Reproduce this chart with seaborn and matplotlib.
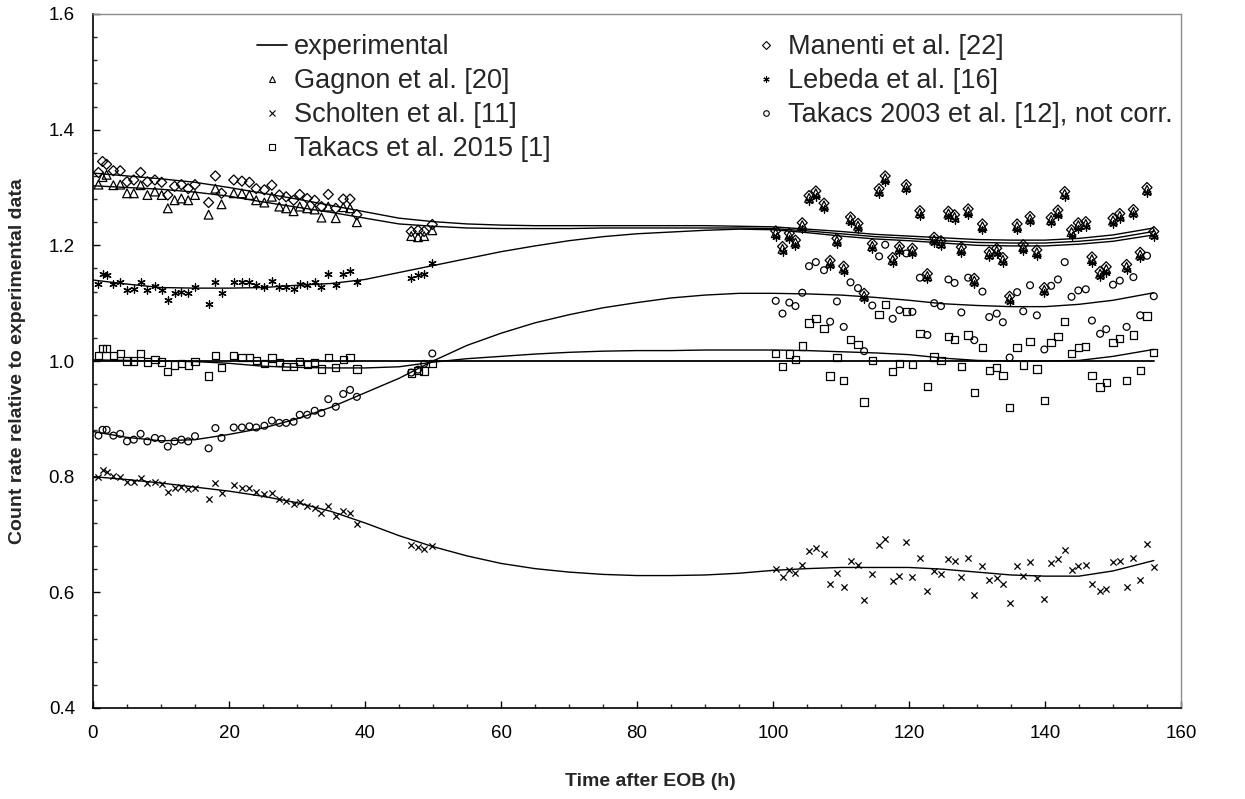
import matplotlib
matplotlib.use("Agg")
import matplotlib.pyplot as plt
from matplotlib.lines import Line2D
from matplotlib.ticker import MultipleLocator, FormatStrFormatter
import seaborn as sns

# ------------------------------------------------------------------
# Data
# ------------------------------------------------------------------

# measurement times (h after EOB): early block and late block
time_early = [0.8, 1.4, 2.0, 3.0, 4.0, 5.0, 6.0, 7.0, 8.0, 9.1, 10.1, 11.0, 12.0,
              13.0, 14.0, 15.0, 17.0, 18.0, 18.9, 20.7, 21.9, 23.0, 24.0, 25.2,
              26.3, 27.4, 28.4, 29.5, 30.4, 31.5, 32.6, 33.6, 34.6, 35.7, 36.8,
              37.8, 38.8, 46.8, 47.8, 48.7, 49.9]
time_late = [100.4, 101.4, 102.4, 103.3, 104.3, 105.3, 106.3, 107.5, 108.4, 109.4,
             110.4, 111.4, 112.5, 113.4, 114.6, 115.6, 116.5, 117.6, 118.6, 119.6,
             120.5, 121.6, 122.7, 123.7, 124.7, 125.8, 126.7, 127.7, 128.7, 129.6,
             130.8, 131.8, 132.9, 133.8, 134.8, 135.9, 136.8, 137.8, 138.8, 139.9,
             140.9, 141.9, 142.9, 143.9, 144.9, 146.0, 146.9, 148.1, 149.0, 150.0,
             151.0, 152.0, 153.0, 154.0, 155.0, 156.0]

gagnon_early = [1.305, 1.318, 1.322, 1.304, 1.305, 1.290, 1.290, 1.304, 1.287, 1.293,
                1.287, 1.264, 1.278, 1.281, 1.278, 1.287, 1.253, 1.298, 1.271, 1.290,
                1.290, 1.287, 1.278, 1.274, 1.284, 1.267, 1.264, 1.259, 1.267, 1.264,
                1.262, 1.248, 1.267, 1.247, 1.266, 1.264, 1.240, 1.216, 1.214, 1.216,
                1.226]
gagnon_late = [1.221, 1.194, 1.217, 1.205, 1.235, 1.282, 1.290, 1.269, 1.170, 1.208,
               1.160, 1.245, 1.234, 1.113, 1.199, 1.294, 1.316, 1.175, 1.194, 1.301,
               1.191, 1.256, 1.147, 1.210, 1.204, 1.255, 1.249, 1.193, 1.259, 1.139,
               1.233, 1.185, 1.191, 1.175, 1.108, 1.233, 1.197, 1.246, 1.188, 1.123,
               1.244, 1.257, 1.289, 1.223, 1.235, 1.237, 1.176, 1.151, 1.159, 1.243,
               1.251, 1.163, 1.258, 1.184, 1.296, 1.220]

scholten_early = [0.800, 0.811, 0.808, 0.801, 0.800, 0.790, 0.791, 0.798, 0.789, 0.790,
                  0.787, 0.773, 0.781, 0.782, 0.778, 0.781, 0.762, 0.789, 0.772, 0.785,
                  0.781, 0.780, 0.774, 0.770, 0.772, 0.762, 0.758, 0.752, 0.756, 0.749,
                  0.745, 0.737, 0.749, 0.732, 0.740, 0.738, 0.718, 0.681, 0.678, 0.675,
                  0.680]
scholten_late = [0.641, 0.626, 0.638, 0.634, 0.648, 0.671, 0.676, 0.667, 0.614, 0.634,
                 0.609, 0.655, 0.648, 0.586, 0.631, 0.682, 0.693, 0.619, 0.628, 0.687,
                 0.626, 0.660, 0.603, 0.637, 0.631, 0.657, 0.655, 0.626, 0.660, 0.595,
                 0.645, 0.622, 0.624, 0.614, 0.581, 0.645, 0.628, 0.653, 0.624, 0.588,
                 0.650, 0.657, 0.674, 0.638, 0.645, 0.648, 0.614, 0.602, 0.606, 0.653,
                 0.655, 0.609, 0.660, 0.621, 0.683, 0.643]

takacs15_early = [1.010, 1.022, 1.022, 1.010, 1.013, 1.000, 1.000, 1.013, 0.998, 1.003,
                  0.998, 0.982, 0.993, 0.996, 0.993, 0.999, 0.974, 1.010, 0.989, 1.009,
                  1.006, 1.006, 1.001, 0.996, 1.005, 0.997, 0.991, 0.991, 0.999, 0.994,
                  0.997, 0.986, 1.006, 0.989, 1.003, 1.006, 0.986, 0.979, 0.984, 0.983,
                  0.996]
takacs15_late = [1.013, 0.991, 1.012, 1.003, 1.026, 1.066, 1.074, 1.056, 0.974, 1.006,
                 0.966, 1.037, 1.028, 0.929, 1.001, 1.080, 1.098, 0.982, 0.996, 1.086,
                 0.994, 1.047, 0.956, 1.007, 1.001, 1.042, 1.037, 0.991, 1.045, 0.946,
                 1.023, 0.984, 0.989, 0.975, 0.920, 1.023, 0.993, 1.034, 0.986, 0.932,
                 1.032, 1.042, 1.068, 1.013, 1.023, 1.025, 0.975, 0.955, 0.963, 1.032,
                 1.039, 0.966, 1.045, 0.984, 1.078, 1.015]

manenti_early = [1.326, 1.345, 1.340, 1.329, 1.329, 1.310, 1.313, 1.326, 1.310, 1.313,
                 1.309, 1.287, 1.302, 1.305, 1.298, 1.305, 1.274, 1.320, 1.290, 1.313,
                 1.311, 1.309, 1.298, 1.296, 1.304, 1.287, 1.284, 1.278, 1.288, 1.281,
                 1.278, 1.267, 1.288, 1.264, 1.280, 1.280, 1.253, 1.224, 1.226, 1.224,
                 1.236]
manenti_late = [1.225, 1.198, 1.221, 1.209, 1.239, 1.286, 1.294, 1.273, 1.174, 1.212,
                1.164, 1.249, 1.238, 1.117, 1.203, 1.298, 1.320, 1.179, 1.198, 1.305,
                1.195, 1.260, 1.151, 1.214, 1.208, 1.259, 1.253, 1.197, 1.263, 1.143,
                1.237, 1.189, 1.195, 1.179, 1.112, 1.237, 1.201, 1.250, 1.192, 1.127,
                1.248, 1.261, 1.293, 1.227, 1.239, 1.241, 1.180, 1.155, 1.163, 1.247,
                1.255, 1.167, 1.262, 1.188, 1.300, 1.224]

lebeda_early = [1.133, 1.151, 1.148, 1.133, 1.136, 1.122, 1.125, 1.136, 1.122, 1.129,
                1.122, 1.106, 1.118, 1.119, 1.118, 1.128, 1.099, 1.136, 1.117, 1.136,
                1.136, 1.136, 1.131, 1.128, 1.139, 1.128, 1.128, 1.125, 1.133, 1.132,
                1.136, 1.128, 1.150, 1.132, 1.150, 1.156, 1.136, 1.143, 1.148, 1.151,
                1.170]
lebeda_late = [1.215, 1.188, 1.211, 1.199, 1.229, 1.276, 1.284, 1.263, 1.164, 1.202,
               1.154, 1.239, 1.228, 1.107, 1.193, 1.288, 1.310, 1.169, 1.188, 1.295,
               1.185, 1.250, 1.141, 1.204, 1.198, 1.249, 1.243, 1.187, 1.253, 1.133,
               1.227, 1.179, 1.185, 1.169, 1.102, 1.227, 1.191, 1.240, 1.182, 1.117,
               1.238, 1.251, 1.283, 1.217, 1.229, 1.231, 1.170, 1.145, 1.153, 1.237,
               1.245, 1.157, 1.252, 1.178, 1.290, 1.214]

takacs03_early = [0.871, 0.881, 0.881, 0.871, 0.874, 0.861, 0.864, 0.874, 0.861, 0.867,
                  0.865, 0.852, 0.861, 0.864, 0.861, 0.870, 0.849, 0.884, 0.867, 0.885,
                  0.885, 0.887, 0.885, 0.888, 0.897, 0.893, 0.893, 0.895, 0.907, 0.907,
                  0.914, 0.910, 0.934, 0.921, 0.943, 0.950, 0.938, 0.980, 0.985, 0.995,
                  1.013]
takacs03_late = [1.104, 1.082, 1.101, 1.095, 1.118, 1.164, 1.171, 1.157, 1.068, 1.103,
                 1.059, 1.136, 1.126, 1.017, 1.096, 1.181, 1.201, 1.073, 1.088, 1.186,
                 1.085, 1.144, 1.045, 1.100, 1.095, 1.141, 1.135, 1.084, 1.144, 1.036,
                 1.120, 1.076, 1.082, 1.067, 1.006, 1.119, 1.086, 1.131, 1.079, 1.020,
                 1.130, 1.141, 1.171, 1.111, 1.122, 1.124, 1.070, 1.047, 1.055, 1.132,
                 1.139, 1.059, 1.145, 1.079, 1.182, 1.112]

# smoothed ratio curves
curve_t = [0, 5, 10, 15, 20, 25, 30, 35, 40, 45, 50, 55, 60, 65, 70, 75, 80, 85,
           90, 95, 100, 105, 110, 115, 120, 125, 130, 135, 140, 145, 150, 156]
exp_t = [0, 156]
exp_curve = [1.0, 1.0]
manenti_curve = [1.325, 1.320, 1.315, 1.309, 1.300, 1.290, 1.280, 1.269, 1.258, 1.247,
                 1.241, 1.237, 1.235, 1.234, 1.234, 1.234, 1.234, 1.234, 1.234, 1.233,
                 1.232, 1.228, 1.224, 1.219, 1.216, 1.213, 1.210, 1.209, 1.209, 1.212,
                 1.218, 1.230]
gagnon_curve = [1.303, 1.300, 1.297, 1.292, 1.285, 1.275, 1.266, 1.257, 1.247, 1.237,
                1.233, 1.230, 1.229, 1.229, 1.229, 1.230, 1.230, 1.230, 1.230, 1.230,
                1.229, 1.225, 1.220, 1.215, 1.212, 1.208, 1.205, 1.204, 1.204, 1.207,
                1.212, 1.224]
lebeda_curve = [1.140, 1.133, 1.127, 1.126, 1.126, 1.127, 1.131, 1.134, 1.141, 1.153,
                1.165, 1.177, 1.189, 1.199, 1.208, 1.215, 1.220, 1.223, 1.226, 1.228,
                1.227, 1.222, 1.216, 1.211, 1.208, 1.204, 1.200, 1.199, 1.199, 1.202,
                1.207, 1.218]
takacs15_curve = [1.002, 1.001, 1.000, 0.999, 0.996, 0.991, 0.989, 0.988, 0.988, 0.990,
                  0.998, 1.004, 1.008, 1.012, 1.015, 1.017, 1.018, 1.018, 1.019, 1.019,
                  1.019, 1.018, 1.016, 1.014, 1.011, 1.005, 1.001, 1.000, 1.000, 1.001,
                  1.008, 1.020]
takacs03_curve = [0.878, 0.868, 0.862, 0.864, 0.873, 0.884, 0.900, 0.920, 0.945, 0.970,
                  1.000, 1.027, 1.048, 1.066, 1.080, 1.092, 1.101, 1.109, 1.114, 1.117,
                  1.117, 1.116, 1.114, 1.110, 1.105, 1.099, 1.096, 1.094, 1.094, 1.098,
                  1.105, 1.118]
scholten_curve = [0.800, 0.795, 0.789, 0.782, 0.775, 0.766, 0.755, 0.740, 0.720, 0.698,
                  0.679, 0.663, 0.650, 0.641, 0.635, 0.631, 0.629, 0.629, 0.630, 0.633,
                  0.638, 0.641, 0.643, 0.643, 0.643, 0.640, 0.635, 0.630, 0.628, 0.628,
                  0.637, 0.655]

time_h = time_early + time_late
ASTERISK = (6, 2, 0)

# label, points, marker, scatter size, legend marker size
series = [
    ("Gagnon et al. [20]", gagnon_early + gagnon_late, "^", 40, 4.5),
    ("Scholten et al. [11]", scholten_early + scholten_late, "x", 20, 4.0),
    ("Takacs et al. 2015 [1]", takacs15_early + takacs15_late, "s", 28, 4.0),
    ("Manenti et al. [22]", manenti_early + manenti_late, "D", 26, 4.2),
    ("Lebeda et al. [16]", lebeda_early + lebeda_late, ASTERISK, 28, 4.5),
    ("Takacs 2003 et al. [12], not corr.", takacs03_early + takacs03_late, "o", 24, 4.0),
]
curves = [manenti_curve, gagnon_curve, lebeda_curve, takacs15_curve,
          takacs03_curve, scholten_curve]

# ------------------------------------------------------------------
# Figure
# ------------------------------------------------------------------
sns.set_style("ticks")
plt.rcParams["font.family"] = ["Liberation Sans", "DejaVu Sans"]

W, H = 1245, 799
fig = plt.figure(figsize=(W / 100, H / 100), dpi=100)
ax = fig.add_axes([93 / W, 1 - 708 / H, 1088 / W, 694 / H])

sns.lineplot(x=exp_t, y=exp_curve, color="black", lw=1.3, ax=ax)
for c in curves:
    sns.lineplot(x=curve_t, y=c, color="black", lw=1.0, ax=ax,
                 estimator=None, sort=False)

for label, pts, mk, size, _ in series:
    style = dict(color="black", linewidth=0.9)
    if mk in ("^", "s", "D", "o"):
        style["facecolor"] = "none"
        style["edgecolor"] = "black"
    sns.scatterplot(x=time_h, y=pts, marker=mk, s=size, ax=ax, zorder=3, **style)

ax.set_xlim(0, 160)
ax.set_ylim(0.4, 1.6)
ax.xaxis.set_major_locator(MultipleLocator(20))
ax.xaxis.set_minor_locator(MultipleLocator(5))
ax.yaxis.set_major_locator(MultipleLocator(0.2))
ax.yaxis.set_minor_locator(MultipleLocator(0.04))
ax.yaxis.set_major_formatter(FormatStrFormatter("%.1f"))
ax.xaxis.set_major_formatter(FormatStrFormatter("%d"))

ax.tick_params(which="major", direction="in", length=5, width=1.0,
               labelsize=13.5, colors="black")
ax.tick_params(which="minor", direction="in", length=3, width=1.0)
ax.tick_params(axis="x", pad=12)
ax.tick_params(axis="y", pad=13)

for side in ("left", "bottom"):
    ax.spines[side].set_color("black")
    ax.spines[side].set_linewidth(1.2)
for side in ("top", "right"):
    ax.spines[side].set_visible(True)
    ax.spines[side].set_color("#8c8c8c")
    ax.spines[side].set_linewidth(1.0)

ax.set_xlabel("Time after EOB (h)", fontsize=14, fontweight="bold")
ax.set_ylabel("Count rate relative to experimental data", fontsize=14,
              fontweight="bold")
ax.xaxis.set_label_coords(0.512, -0.093)
ax.yaxis.set_label_coords(-0.062, 0.5)

# legend: two columns
def _handle(mk, ms):
    return Line2D([], [], ls="none", marker=mk, ms=ms, mfc="none",
                  mec="black", mew=0.8, color="black")

col1 = [Line2D([], [], color="black", lw=1.2)] + [_handle(s[2], s[4]) for s in series[:3]]
lab1 = ["experimental"] + [s[0] for s in series[:3]]
col2 = [_handle(s[2], s[4]) for s in series[3:]]
lab2 = [s[0] for s in series[3:]]

leg_kw = dict(loc="upper left", bbox_transform=fig.transFigure, frameon=False,
              fontsize=19.5, handlelength=1.1, handletextpad=0.25,
              labelspacing=0.3, borderpad=0, borderaxespad=0)
leg1 = ax.legend(col1, lab1, bbox_to_anchor=(257 / W, 1 - 34 / H), **leg_kw)
ax.add_artist(leg1)
ax.legend(col2, lab2, bbox_to_anchor=(751 / W, 1 - 34 / H), **leg_kw)

fig.savefig("out.png", dpi=100)
plt.close(fig)
